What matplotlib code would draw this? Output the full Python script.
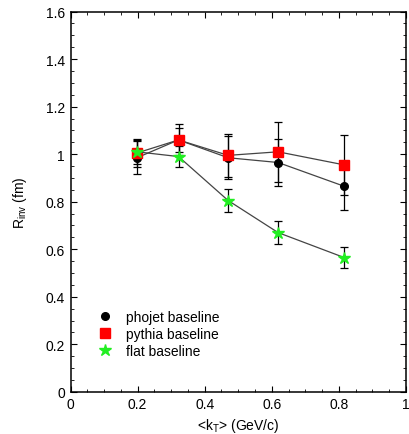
import matplotlib
matplotlib.use("Agg")
import matplotlib.pyplot as plt
from matplotlib.ticker import MultipleLocator, FuncFormatter
from matplotlib.lines import Line2D

plt.rcParams['font.family'] = ['Liberation Sans', 'DejaVu Sans']
plt.rcParams['mathtext.fontset'] = 'custom'
plt.rcParams['mathtext.rm'] = 'Liberation Sans'
plt.rcParams['mathtext.it'] = 'Liberation Sans:italic'

kt = [0.198, 0.322, 0.47, 0.619, 0.816]
phojet = [0.985, 1.06, 0.985, 0.965, 0.865]
phojet_err = [0.07, 0.05, 0.09, 0.10, 0.10]
pythia = [1.005, 1.06, 0.995, 1.01, 0.955]
pythia_err = [0.06, 0.065, 0.09, 0.125, 0.125]
flat = [1.01, 0.99, 0.805, 0.67, 0.565]
flat_err = [0.05, 0.045, 0.05, 0.05, 0.045]
labels = ['phojet baseline', 'pythia baseline', 'flat baseline']

fig = plt.figure(figsize=(4.1, 4.35), dpi=100)
ax = fig.add_axes([0.172, 0.097, 0.818, 0.874])

line_c = '#444444'
green = '#22ee22'
kw = dict(ecolor='black', elinewidth=0.9, capsize=3, capthick=0.9, color=line_c, lw=0.9)
ax.errorbar(kt, phojet, yerr=phojet_err, marker='o', ms=5.5, mfc='black', mec='black', **kw)
ax.errorbar(kt, pythia, yerr=pythia_err, marker='s', ms=6.5, mfc='red', mec='red', **kw)
ax.errorbar(kt, flat, yerr=flat_err, marker='*', ms=9, mfc=green, mec=green, **kw)

ax.set_xlim(0, 1)
ax.set_ylim(0, 1.6)
ax.xaxis.set_major_locator(MultipleLocator(0.2))
ax.xaxis.set_minor_locator(MultipleLocator(0.05))
ax.yaxis.set_major_locator(MultipleLocator(0.2))
ax.yaxis.set_minor_locator(MultipleLocator(0.05))
fmt = FuncFormatter(lambda v, p: ('%.1f' % v).rstrip('0').rstrip('.') if abs(v) > 1e-9 else '0')
ax.xaxis.set_major_formatter(fmt)
ax.yaxis.set_major_formatter(fmt)
ax.tick_params(which='both', direction='in', top=True, right=True, labelsize=10)
ax.tick_params(which='major', length=4.5, width=0.8, pad=4)
ax.tick_params(which='minor', length=2.3, width=0.6)
for s in ax.spines.values():
    s.set_linewidth(1.1)

ax.set_xlabel(r'<k$_{\mathrm{T}}$> (GeV/c)', fontsize=10, labelpad=3)
ax.set_ylabel(r'R$_{\mathrm{inv}}$ (fm)', fontsize=10, labelpad=12)

hs = [Line2D([], [], ls='none', marker='o', ms=5.5, mfc='black', mec='black'),
      Line2D([], [], ls='none', marker='s', ms=6.5, mfc='red', mec='red'),
      Line2D([], [], ls='none', marker='*', ms=9, mfc=green, mec=green)]
ax.legend(hs, labels, loc='lower left', bbox_to_anchor=(0.062, 0.075), frameon=False, fontsize=10,
          handlelength=1.2, handletextpad=0.9, labelspacing=0.2, borderaxespad=0)

fig.savefig('out.png', dpi=100)
